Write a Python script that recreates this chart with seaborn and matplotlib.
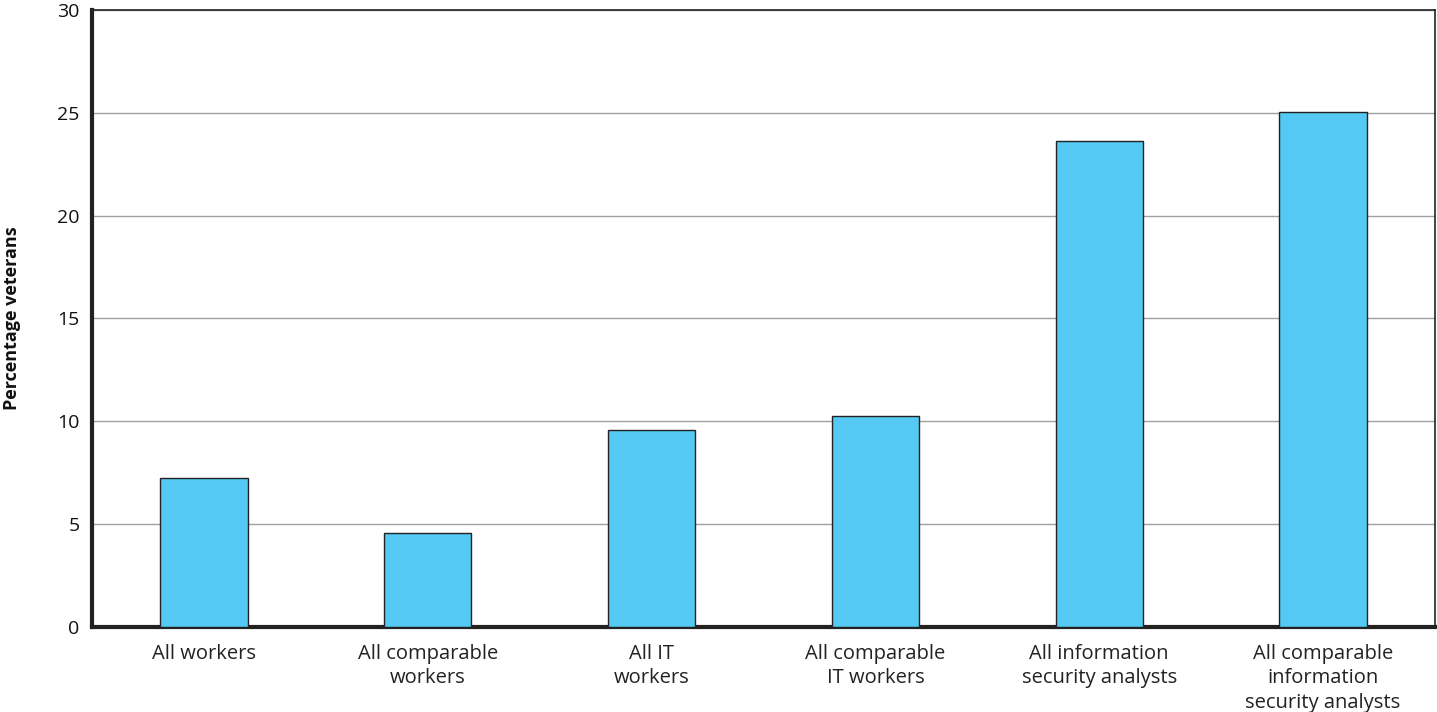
import matplotlib
matplotlib.use("Agg")
import matplotlib.pyplot as plt
import seaborn as sns
import pandas as pd

categories = ["All workers", "All comparable\nworkers", "All IT\nworkers",
              "All comparable\nIT workers", "All information\nsecurity analysts",
              "All comparable\ninformation\nsecurity analysts"]
values = [7.22, 4.56, 9.60, 10.27, 23.62, 25.03]
yticks = [0, 5, 10, 15, 20, 25, 30]

sns.set_theme(style="white")
plt.rcParams['font.family'] = ['Open Sans', 'DejaVu Sans']

df = pd.DataFrame({"cat": categories, "val": values})
fig = plt.figure(figsize=(14.37, 7.12), dpi=100)
ax = fig.add_axes([0.064, 0.1194, 0.9346, 0.8666])
sns.barplot(data=df, x="cat", y="val", ax=ax, color="#53C9F3", saturation=1,
            width=0.39, edgecolor="#222222", linewidth=1.0, zorder=3)
ax.set_ylim(0, 30)
ax.set_xlim(-0.5, 5.5)
ax.set_yticks(yticks)
ax.set_yticklabels([str(t) for t in yticks], fontsize=14, color="#111111")
ax.tick_params(axis='x', labelsize=14.5, colors="#222222", length=0, pad=12)
for lbl in ax.get_xticklabels():
    lbl.set_linespacing(1.32)
ax.tick_params(axis='y', length=0, pad=9)
ax.yaxis.grid(True, color="#a0a0a0", linewidth=1.0, zorder=0)
ax.set_axisbelow(True)
ax.set_xlabel("")
ax.set_ylabel("Percentage veterans", fontsize=13, fontweight="bold", color="#111111")
ax.yaxis.set_label_coords(-0.0525, 0.5)
for s in ["top", "right"]:
    ax.spines[s].set_color("#222222")
    ax.spines[s].set_linewidth(1.2)
ax.spines["left"].set_color("#222222")
ax.spines["left"].set_linewidth(3)
ax.spines["bottom"].set_color("#222222")
ax.spines["bottom"].set_linewidth(3)
fig.savefig("out.png", dpi=100)
